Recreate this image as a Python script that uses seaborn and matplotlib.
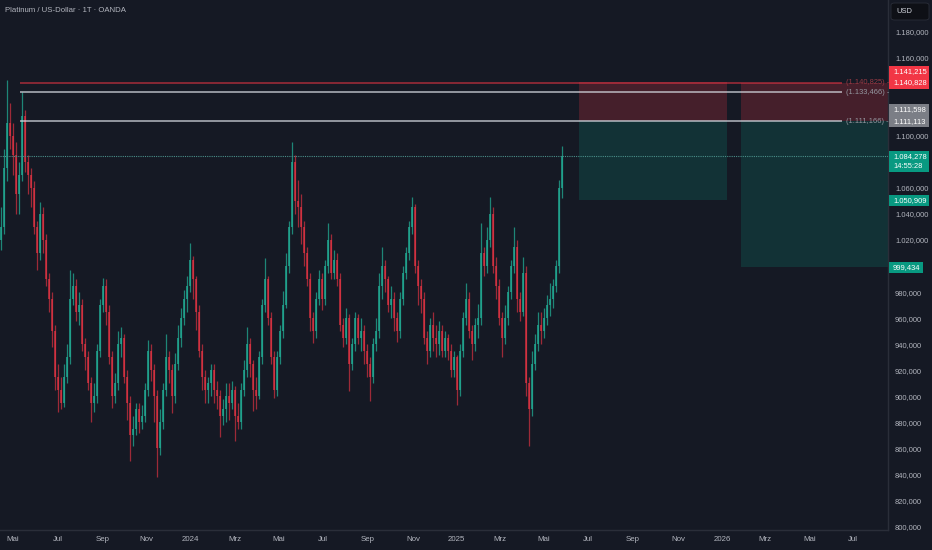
import numpy as np
import pandas as pd
import matplotlib
matplotlib.use('Agg')
import matplotlib.pyplot as plt
from matplotlib.patches import Rectangle, FancyBboxPatch
import seaborn as sns

# candles (3 trading days per candle)
first_open = 1020
close = [
    1030, 1075, 1110, 1100, 1085, 1055, 1070, 1115, 1080, 1070, 1060, 1030,
    1010, 1040, 1020, 990, 975, 950, 915, 905, 895, 915, 930, 975,
    985, 965, 970, 940, 930, 910, 895, 900, 935, 970, 985, 965,
    930, 900, 910, 940, 945, 915, 895, 870, 875, 890, 880, 885,
    905, 935, 920, 900, 860, 880, 905, 930, 920, 900, 925, 945,
    960, 975, 985, 1005, 990, 965, 935, 915, 905, 910, 920, 905,
    900, 885, 890, 900, 895, 905, 885, 880, 905, 920, 940, 925,
    905, 900, 930, 970, 990, 960, 930, 905, 930, 950, 970, 1000,
    1030, 1080, 1050, 1045, 1030, 1010, 990, 960, 950, 975, 990, 975,
    1000, 1020, 995, 1005, 990, 955, 945, 960, 925, 940, 960, 945,
    950, 935, 925, 915, 940, 950, 985, 1000, 990, 970, 975, 960,
    950, 975, 995, 1010, 1030, 1045, 1000, 985, 975, 945, 935, 955,
    945, 940, 950, 935, 945, 935, 920, 930, 905, 935, 960, 975,
    950, 940, 955, 960, 1010, 1000, 1020, 1040, 1000, 985, 960, 945,
    960, 980, 1000, 1015, 975, 965, 995, 910, 890, 925, 940, 955,
    950, 960, 970, 975, 985, 1000, 1060, 1084.278,
]
high = [
    1045, 1090, 1143, 1125, 1110, 1095, 1080, 1134, 1120, 1085, 1075, 1065,
    1035, 1049, 1045, 1025, 995, 980, 955, 925, 915, 925, 940, 997,
    995, 990, 980, 975, 945, 935, 915, 910, 940, 975, 991, 990,
    970, 935, 918, 950, 953, 948, 920, 900, 885, 895, 895, 893,
    910, 943, 940, 925, 905, 890, 910, 948, 935, 925, 933, 955,
    968, 982, 992, 1018, 1008, 992, 970, 940, 920, 915, 925, 925,
    912, 905, 898, 910, 910, 912, 908, 895, 910, 928, 953, 945,
    928, 915, 935, 975, 1006, 992, 965, 935, 935, 955, 981, 1010,
    1035, 1095, 1085, 1066, 1055, 1035, 1015, 995, 965, 980, 997, 995,
    1005, 1033, 1025, 1012, 1010, 995, 960, 968, 963, 945, 965, 963,
    960, 955, 940, 930, 945, 960, 995, 1015, 1005, 992, 985, 980,
    965, 980, 1000, 1015, 1035, 1053, 1048, 1005, 990, 980, 950, 960,
    965, 955, 958, 955, 950, 948, 940, 935, 932, 940, 965, 987,
    980, 955, 960, 971, 1033, 1015, 1030, 1053, 1045, 1007, 990, 965,
    970, 985, 1005, 1030, 1020, 980, 1007, 1000, 915, 935, 948, 965,
    965, 968, 978, 987, 990, 1005, 1066, 1092,
]
low = [
    1012, 1025, 1065, 1090, 1070, 1040, 1040, 1065, 1072, 1055, 1045, 1025,
    997, 1005, 1010, 985, 965, 938, 905, 888, 890, 892, 910, 925,
    970, 958, 955, 935, 920, 905, 880, 888, 895, 930, 965, 955,
    925, 891, 895, 905, 930, 910, 882, 850, 862, 870, 872, 875,
    880, 900, 912, 880, 838, 855, 875, 900, 910, 887, 895, 920,
    938, 955, 965, 980, 975, 951, 930, 905, 895, 895, 900, 895,
    890, 869, 878, 880, 882, 890, 866, 875, 875, 900, 915, 915,
    889, 890, 898, 925, 965, 955, 925, 899, 900, 925, 945, 968,
    995, 1025, 1040, 1030, 1017, 1000, 985, 950, 941, 945, 970, 966,
    970, 995, 990, 990, 985, 950, 938, 940, 904, 920, 935, 940,
    935, 925, 915, 896, 910, 935, 945, 975, 980, 965, 960, 950,
    942, 945, 970, 990, 1005, 1025, 995, 970, 964, 940, 925, 930,
    935, 930, 932, 930, 930, 928, 915, 915, 893, 900, 930, 955,
    945, 928, 935, 945, 955, 992, 995, 1015, 995, 975, 955, 930,
    940, 955, 975, 995, 965, 958, 962, 900, 862, 885, 920, 935,
    940, 945, 955, 962, 968, 980, 995, 1052,
]

# levels and position tools
line_red = 1140.825
lines_white = [1133.466, 1111.166]
last_price = 1084.278
box1 = dict(x0=569.6, x1=714.6, stop=1141.215, entry=1111.598, target=1050.909)
box2 = dict(x0=728.6, x1=900.0, stop=1140.828, entry=1111.113, target=999.434)

month_dates = ['2023-05-01', '2023-07-01', '2023-09-01', '2023-11-01', '2024-01-01',
               '2024-03-01', '2024-05-01', '2024-07-01', '2024-09-01', '2024-11-01',
               '2025-01-01', '2025-03-01', '2025-05-01', '2025-07-01', '2025-09-01',
               '2025-11-01', '2026-01-01', '2026-03-01', '2026-05-01', '2026-07-01']
month_labels = ['Mai', 'Jul', 'Sep', 'Nov', '2024', 'Mrz', 'Mai', 'Jul', 'Sep', 'Nov',
                '2025', 'Mrz', 'Mai', 'Jul', 'Sep', 'Nov', '2026', 'Mrz', 'Mai', 'Jul']

BG = '#151924'
GRID = '#2a2e39'
TXT = '#b2b5be'
UP = '#22ab94'
DOWN = '#f23645'

sns.set_theme(style='dark', rc={'axes.facecolor': BG, 'figure.facecolor': BG})
plt.rcParams['font.family'] = ['Liberation Sans', 'DejaVu Sans']

W, H = 932, 550
fig = plt.figure(figsize=(W / 100, H / 100), dpi=100)
ax = fig.add_axes([0, 20 / H, 888 / W, 530 / H])
ax.set_facecolor(BG)

y_top, y_bot = 1204.35, 797.3
ax.set_ylim(y_bot, y_top)
ax.set_xlim(0, 888 / 1.017)

FS = 5.4


def fmt(v):
    s = f'{v:,.3f}'
    return s.replace(',', 'X').replace('.', ',').replace('X', '.')


def ypx(p):
    return (y_top - p) / (y_top - y_bot) * 530


def fx(x):
    return x / W


def fy(y):
    return 1 - y / H


# candles
close = np.array(close, dtype=float)
high = np.array(high, dtype=float)
low = np.array(low, dtype=float)
opn = np.r_[first_open, close[:-1]]
pos = np.arange(len(close)) * 2.95 + 1.0
up = close >= opn
cols = np.where(up, UP, DOWN)
alphas = np.where(up, 0.75, 0.62)
for p, o, c, h, l, col, a in zip(pos, opn, close, high, low, cols, alphas):
    ax.vlines(p, l, h, color=col, lw=0.9, alpha=a, zorder=3)
    ax.bar(p, max(abs(c - o), 1.0), bottom=min(o, c), width=2.6, color=col,
           alpha=a, linewidth=0, zorder=3)

# position tools
for b in (box1, box2):
    ax.add_patch(Rectangle((b['x0'], b['entry']), b['x1'] - b['x0'], b['stop'] - b['entry'],
                           facecolor=DOWN, alpha=0.22, lw=0, zorder=1))
    ax.add_patch(Rectangle((b['x0'], b['target']), b['x1'] - b['x0'], b['entry'] - b['target'],
                           facecolor='#089981', alpha=0.2, lw=0, zorder=1))

# horizontal levels
x_start, x_end = 20 / 1.017, 842 / 1.017
ax.hlines(line_red, x_start, x_end, color=DOWN, lw=1.2, alpha=0.6, zorder=4)
for lv in lines_white:
    ax.hlines(lv, x_start, x_end, color='#d1d4dc', lw=1.1, alpha=0.85, zorder=4)
ax.axhline(last_price, color='#4a8f8a', lw=0.8, ls=(0, (1, 1)), zorder=4)

fig.text(fx(846), fy(ypx(line_red)), f'({fmt(line_red)}) -', color='#9a3a44',
         fontsize=FS, va='center', ha='left')
for lv in lines_white:
    fig.text(fx(846), fy(ypx(lv)), f'({fmt(lv)}) -', color='#9598a1',
             fontsize=FS, va='center', ha='left')

# axes styling
for s in ['top', 'left']:
    ax.spines[s].set_visible(False)
for s in ['right', 'bottom']:
    ax.spines[s].set_color(GRID)
    ax.spines[s].set_linewidth(1.0)
ax.grid(False)

# scale labels hidden behind the price tags are left blank
covered = {1000, 1080, 1120, 1140}
yt = np.arange(800, 1181, 20)
ax.set_yticks(yt)
ax.set_yticklabels(['' if v in covered else fmt(v) for v in yt])
ax.yaxis.tick_right()
ax.tick_params(axis='y', length=0, pad=5, labelsize=FS, labelcolor=TXT)

start = np.datetime64('2023-04-13')
xt = [np.busday_count(start, np.datetime64(d)) for d in month_dates]
ax.set_xticks(xt)
ax.set_xticklabels(month_labels)
ax.tick_params(axis='x', length=0, pad=4, labelsize=FS + 0.3, labelcolor=TXT)


# price labels on the scale
def scale_box(y0, y1, color, lines, x1=929):
    fig.add_artist(Rectangle((fx(889), fy(y1)), fx(x1) - fx(889), fy(y0) - fy(y1),
                             transform=fig.transFigure, facecolor=color, lw=0, zorder=10))
    for y, t in lines:
        fig.text(fx(893), fy(y), t, color='white', fontsize=FS, va='center', ha='left', zorder=11)


scale_box(66, 88.5, '#f23645', [(72, fmt(box1['stop'])), (83, fmt(box2['stop']))])
scale_box(104, 127, '#7b7e86', [(110, fmt(box1['entry'])), (121.5, fmt(box2['entry']))])
scale_box(151, 172, '#089981', [(156.5, fmt(last_price)), (166.5, '14:55:28')])
scale_box(195, 206, '#089981', [(200.5, fmt(box1['target']))])
scale_box(262, 273, '#089981', [(267.5, fmt(box2['target']))], x1=923)

fig.add_artist(FancyBboxPatch((fx(891), fy(20)), fx(929) - fx(891), fy(3) - fy(20),
                              boxstyle='round,pad=0,rounding_size=0.004',
                              transform=fig.transFigure, facecolor='#0e1016',
                              edgecolor='#2a2e39', lw=0.6, zorder=10))
fig.text(fx(896), fy(11.5), 'USD', color='#d1d4dc', fontsize=FS, va='center', zorder=11)

fig.text(fx(5), fy(11), 'Platinum / US-Dollar · 1T · OANDA', color=TXT,
         fontsize=5.6, va='center', ha='left')

fig.savefig('out.png', dpi=100, facecolor=BG)
